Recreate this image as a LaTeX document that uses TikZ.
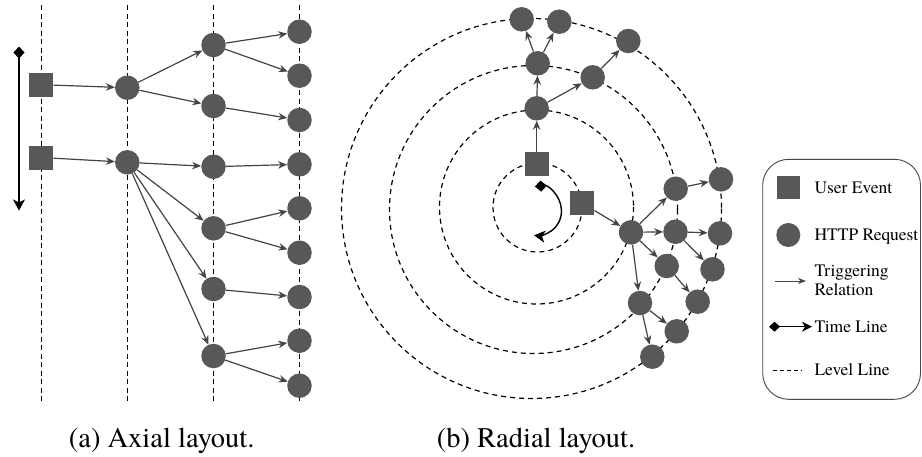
\documentclass[tikz,border=0pt]{standalone}
\usepackage{fontspec}
\IfFontExistsTF{texgyretermes-regular.otf}
  {\newfontfamily\figserif{texgyretermes-regular.otf}}
  {\newfontfamily\figserif{Liberation Serif}}
\usetikzlibrary{arrows.meta}
\definecolor{nodegray}{RGB}{88,88,88}
\definecolor{edgegray}{RGB}{68,68,68}
\definecolor{framegray}{RGB}{70,70,70}

\begin{document}
\begin{tikzpicture}[x=1pt,y=-1pt,
  req/.style={circle,fill=nodegray,minimum size=24.5pt,inner sep=0pt},
  evt/.style={rectangle,fill=nodegray,minimum size=24pt,inner sep=0pt},
  trig/.style={draw=edgegray,line width=1.2pt,-{Stealth[length=9pt,width=7.5pt,inset=3pt]}},
  level/.style={draw=black,line width=1.2pt,dash pattern=on 5pt off 3.5pt},
  ring/.style={draw=black,line width=1.2pt,dash pattern=on 5pt off 4pt},
  timeline/.style={draw=black,line width=1.4pt,{Diamond[length=12pt,width=11pt]}-{Stealth[length=11pt,width=12pt,inset=3pt]}},
  lbl/.style={font=\figserif\fontsize{17.5}{18}\selectfont,anchor=base west,inner sep=0pt},
  captext/.style={font=\figserif\fontsize{28.5}{30}\selectfont,anchor=base,inner sep=0pt}
]
\fill[white] (0,0) rectangle (922,456);
\useasboundingbox (0,0) rectangle (922,456);

% ---------- (a) axial layout ----------
\foreach \x/\n in {41.3/a0,127.3/a1,213.5/a2,299.5/a3}{
  \coordinate (\n top) at (\x,5);
  \coordinate (\n bot) at (\x,402);
  \draw[level] (\n top) -- (\n bot);
}
\coordinate (tlA) at (19,46.5);
\coordinate (tlB) at (19,210.5);
\draw[timeline] (tlA) -- (tlB);

\node[evt] (ue1) at (41.3,84.7) {};
\node[evt] (ue2) at (41.3,157.5) {};
\node[req] (p1) at (127.3,87.7) {};
\node[req] (p2) at (127.3,162.3) {};
\node[req] (q1) at (213.5,45) {};
\node[req] (q2) at (213.5,106) {};
\node[req] (q3) at (213.5,166.7) {};
\node[req] (q4) at (213.5,228.3) {};
\node[req] (q5) at (213.5,289) {};
\node[req] (q6) at (213.5,356) {};
\node[req] (r1) at (299.5,31.7) {};
\node[req] (r2) at (299.5,75.7) {};
\node[req] (r3) at (299.5,120) {};
\node[req] (r4) at (299.5,164.3) {};
\node[req] (r5) at (299.5,208.3) {};
\node[req] (r6) at (299.5,252.7) {};
\node[req] (r7) at (299.5,297) {};
\node[req] (r8) at (299.5,340.7) {};
\node[req] (r9) at (299.5,385.7) {};

\draw[trig] (ue1) -- (p1);
\draw[trig] (ue2) -- (p2);
\draw[trig] (p1) -- (q1);
\draw[trig] (p1) -- (q2);
\draw[trig] (p2) -- (q3);
\draw[trig] (p2) -- (q4);
\draw[trig] (p2) -- (q5);
\draw[trig] (p2) -- (q6);
\draw[trig] (q1) -- (r1);
\draw[trig] (q1) -- (r2);
\draw[trig] (q2) -- (r3);
\draw[trig] (q3) -- (r4);
\draw[trig] (q4) -- (r5);
\draw[trig] (q4) -- (r6);
\draw[trig] (q5) -- (r7);
\draw[trig] (q6) -- (r8);
\draw[trig] (q6) -- (r9);

\node[captext] (capa) at (161.7,447) {(a) Axial layout.};

% ---------- (b) radial layout ----------
\coordinate (o1) at (537.5,207.5);
\coordinate (o2) at (536.5,207);
\coordinate (o3) at (533.5,209.5);
\coordinate (o4) at (531.5,208.5);
\draw[ring] (o1) circle[radius=44.5];
\draw[ring] (o2) circle[radius=97];
\draw[ring] (o3) circle[radius=144];
\draw[ring] (o4) circle[radius=190];

\coordinate (tc) at (537,211);
\draw[timeline] (tc) ++(-95:24.5) arc[start angle=-95,end angle=97,radius=24.5];

\node[evt] (ev1) at (536.7,164) {};
\node[evt] (ev2) at (582.3,203.3) {};
\node[req] (u1) at (536.7,108.3) {};
\node[req] (u2) at (537.7,63.3) {};
\node[req] (u3) at (521.7,19.3) {};
\node[req] (u4) at (559.3,21.7) {};
\node[req] (v1) at (592.7,77.3) {};
\node[req] (v2) at (628.3,41) {};
\node[req] (w0) at (631,232.3) {};
\node[req] (w1) at (675.7,188.7) {};
\node[req] (w2) at (721,179.3) {};
\node[req] (w3) at (675.5,231.7) {};
\node[req] (w4) at (720,233.3) {};
\node[req] (w5) at (666.7,266) {};
\node[req] (w6) at (712.5,269.3) {};
\node[req] (w7) at (697.7,301.7) {};
\node[req] (w8) at (640,303) {};
\node[req] (w9) at (676.7,331.3) {};
\node[req] (w10) at (652.3,356.7) {};

\draw[trig] (ev1) -- (u1);
\draw[trig] (u1) -- (u2);
\draw[trig] (u2) -- (u3);
\draw[trig] (u2) -- (u4);
\draw[trig] (u1) -- (v1);
\draw[trig] (v1) -- (v2);
\draw[trig] (ev2) -- (w0);
\draw[trig] (w0) -- (w1);
\draw[trig] (w0) -- (w3);
\draw[trig] (w0) -- (w5);
\draw[trig] (w0) -- (w8);
\draw[trig] (w1) -- (w2);
\draw[trig] (w3) -- (w4);
\draw[trig] (w3) -- (w6);
\draw[trig] (w5) -- (w7);
\draw[trig] (w8) -- (w9);
\draw[trig] (w8) -- (w10);

\node[captext] (capb) at (536,447) {(b) Radial layout.};

% ---------- legend ----------
\draw[draw=framegray,line width=0.9pt,rounded corners=26pt] (762.7,159.3) rectangle (920.5,399.3);
\node[evt,minimum size=23pt] (kev) at (788.3,187.7) {};
\node[lbl] (kevt) at (814.3,193.3) {User Event};
\node[req,minimum size=24pt] (krq) at (788.3,235) {};
\node[lbl] (krqt) at (814.3,240.7) {HTTP Request};
\coordinate (ka1) at (775,281);
\coordinate (ka2) at (806,281);
\draw[draw=edgegray,line width=0.8pt,-{Stealth[length=8pt,width=6pt,inset=2.5pt]}] (ka1) -- (ka2);
\node[lbl] (katA) at (814.3,276.7) {Triggering};
\node[lbl] (katB) at (814.3,295) {Relation};
\coordinate (kt1) at (769,326.7);
\coordinate (kt2) at (812,326.7);
\draw[draw=black,line width=1.3pt,{Diamond[length=11pt,width=10pt]}-{Stealth[length=10pt,width=10pt,inset=3pt]}] (kt1) -- (kt2);
\node[lbl] (ktt) at (814.3,332.3) {Time Line};
\coordinate (kl1) at (772.5,370);
\coordinate (kl2) at (801,370);
\draw[draw=black,line width=0.9pt,dash pattern=on 4pt off 3pt] (kl1) -- (kl2);
\node[lbl] (klt) at (814.3,375.7) {Level Line};
\end{tikzpicture}
\end{document}
